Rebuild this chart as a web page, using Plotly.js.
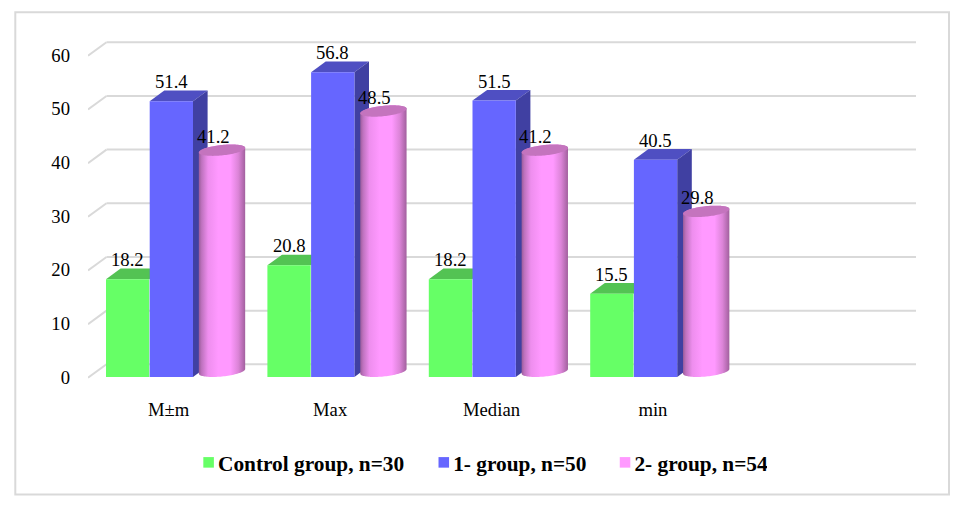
<!DOCTYPE html>
<html><head><meta charset="utf-8">
<script src="https://cdn.plot.ly/plotly-3.0.1.min.js"></script>
<style>html,body{margin:0;padding:0;background:#fff}#c{width:961px;height:510px}</style>
</head><body><div id="c"></div>
<script>
var categories = ['M±m', 'Max', 'Median', 'min'];
var controlValues = [18.2, 20.8, 18.2, 15.5];
var group1Values = [51.4, 56.8, 51.5, 40.5];
var group2Values = [41.2, 48.5, 41.2, 29.8];
var yTicks = [0, 10, 20, 30, 40, 50, 60];
var seriesNames = ['Control group, n=30', '1- group, n=50', '2- group, n=54'];

// geometry helpers (pixels per data unit)
var W = 961, H = 510, mL = 88, mR = 45, mT = 41, mB = 131;
var PX = 161.4, PY = 5.367;
var xr = [-0.5, -0.5 + (W - mL - mR) / PX];
var yr = [-(H - mB - 377) / PY, (377 - mT) / PY];
var ux = function (p) { return p / PX; }, uy = function (p) { return p / PY; };
var idx = categories.map(function (_, i) { return i; });
var barW = ux(43.3), offC = ux(-62.7), offB = ux(-19), dX = ux(14.6), dY = uy(10.7);
var cylC = ux(222 - 168.7), cylA = [ux(22.9), uy(1.5)], cylB = [ux(3.5), uy(5.5)], cylUp = uy(5.7);

var shapes = [];
function path(pts, fill) {
  shapes.push({ type: 'path', xref: 'x', yref: 'y', layer: 'below', fillcolor: fill, line: { width: 0 },
    path: pts.map(function (p, i) { return (i ? 'L' : 'M') + p[0] + ' ' + p[1]; }).join(' ') + ' Z' });
}
// back wall lines and floor stubs
var wallDX = ux(18.5), wallDY = uy(12.7);
yTicks.forEach(function (v) {
  var l = { color: '#d9d9d9', width: 2 };
  shapes.push({ type: 'line', xref: 'x', yref: 'y', layer: 'below', line: l, x0: xr[0] + wallDX, x1: xr[1], y0: v + wallDY, y1: v + wallDY });
  shapes.push({ type: 'line', xref: 'x', yref: 'y', layer: 'below', line: l, x0: xr[0], x1: xr[0] + wallDX, y0: v - 0.15, y1: v + wallDY });
});
// depth faces of the box bars
idx.forEach(function (i) {
  var L = i + offC, R = L + barW, v = controlValues[i];
  path([[L, v], [L + dX, v + dY], [R + dX, v + dY], [R, v]], '#53C353');
  L = i + offB; R = L + barW; v = group1Values[i];
  path([[L, v], [L + dX, v + dY], [R + dX, v + dY], [R, v]], '#4F4FC2');
  path([[R, v], [R + dX, v + dY], [R + dX, dY], [R, 0]], '#4040A2');
});
// frame
function fx(p) { return (p - mL) / (W - mL - mR); }
function fy(p) { return (H - mB - p) / (H - mT - mB); }
shapes.push({ type: 'rect', xref: 'paper', yref: 'paper', layer: 'below', x0: fx(15.3), x1: fx(949), y0: fy(12.2), y1: fy(494.6), line: { color: '#d9d9d9', width: 2 } });

function ell(cx, cy, a) {
  var s = Math.sin(a), c = Math.cos(a);
  return [cx + c * cylA[0] + s * cylB[0], cy + c * cylA[1] + s * cylB[1]];
}
var pink = [[0, '#9A5C9A'], [0.06, '#BE72BE'], [0.2, '#EE8EEE'], [0.42, '#FF99FF'], [0.68, '#FF99FF'], [0.85, '#DC84D8'], [1, '#A2609E']];
var traces = [
  { type: 'bar', name: seriesNames[0], x: idx, y: controlValues, width: barW, offset: offC, marker: { color: '#66FF66' }, hoverinfo: 'y' },
  { type: 'bar', name: seriesNames[1], x: idx, y: group1Values, width: barW, offset: offB, marker: { color: '#6666FF' }, hoverinfo: 'y' },
  { type: 'bar', name: seriesNames[2], x: idx, y: group2Values, width: ux(4), offset: cylC - ux(8.5) - ux(2), marker: { color: '#FF99FF' }, hoverinfo: 'y' }
];
var N = 48;
idx.forEach(function (i) {
  var v = group2Values[i], cx = i + cylC, xs = [], ys = [], k, p;
  var a0 = Math.atan2(cylB[0], cylA[0]);          // angle of the right-most point of the ellipse
  for (k = 0; k <= N; k++) { p = ell(cx, v + cylUp, a0 + Math.PI * k / N); xs.push(p[0]); ys.push(p[1]); }
  for (k = 0; k <= N; k++) { p = ell(cx, cylUp, a0 + Math.PI + Math.PI * k / N); xs.push(p[0]); ys.push(p[1]); }
  traces.push({ type: 'scatter', x: xs, y: ys, mode: 'none', fill: 'toself', showlegend: false, hoverinfo: 'skip',
    fillgradient: { type: 'horizontal', colorscale: pink } });
  var tx = [], ty = [];
  for (k = 0; k <= 2 * N; k++) { p = ell(cx, v + cylUp, Math.PI * k / N); tx.push(p[0]); ty.push(p[1]); }
  traces.push({ type: 'scatter', x: tx, y: ty, mode: 'none', fill: 'toself', fillcolor: '#C474BE', showlegend: false, hoverinfo: 'skip' });
});

var serif = 'Liberation Serif, Times New Roman, serif';
var annotations = [];
function labels(vals, off) {
  vals.forEach(function (v, i) {
    annotations.push({ x: i + off, y: v, text: v.toFixed(1), showarrow: false, xanchor: 'center', yanchor: 'bottom', yshift: 7,
      font: { family: serif, size: 18.67, color: '#000' } });
  });
}
labels(controlValues, offC + barW / 2);
labels(group1Values, offB + barW / 2);
labels(group2Values, cylC - ux(9));

var layout = {
  width: W, height: H, margin: { l: mL, r: mR, t: mT, b: mB, pad: 0 },
  paper_bgcolor: '#fff', plot_bgcolor: 'rgba(0,0,0,0)',
  xaxis: { type: 'linear', range: xr, tickmode: 'array', tickvals: idx, ticktext: categories, showgrid: false, zeroline: false, showline: false,
    ticks: '', ticklabelstandoff: 17, tickfont: { family: serif, size: 18.67, color: '#000' } },
  yaxis: { type: 'linear', range: yr, tickmode: 'array', tickvals: yTicks, showgrid: false, zeroline: false, showline: false,
    ticks: '', ticklabelstandoff: 17, ticklabelshift: 3.4, tickfont: { family: serif, size: 18.67, color: '#000' } },
  showlegend: true,
  legend: { orientation: 'h', x: fx(178), xanchor: 'left', y: fy(442), yanchor: 'top', bgcolor: 'rgba(0,0,0,0)',
    font: { family: serif, size: 21.33, color: '#000', weight: 'bold' }, itemclick: false, itemdoubleclick: false, traceorder: 'normal' },
  shapes: shapes, annotations: annotations
};
Plotly.newPlot('c', traces, layout, { displayModeBar: false }).then(function (gd) {
  gd.querySelectorAll('.legend .legendpoints').forEach(function (n) {
    n.setAttribute('transform', 'translate(13,0) scale(0.88)');
  });
  var extra = [0, 4, 7];
  gd.querySelectorAll('.legend .traces').forEach(function (n, i) {
    var m = /translate\(([-\d.]+),\s*([-\d.]+)\)/.exec(n.getAttribute('transform'));
    if (m) n.setAttribute('transform', 'translate(' + (parseFloat(m[1]) + extra[i]) + ',' + m[2] + ')');
  });
});
</script></body></html>
